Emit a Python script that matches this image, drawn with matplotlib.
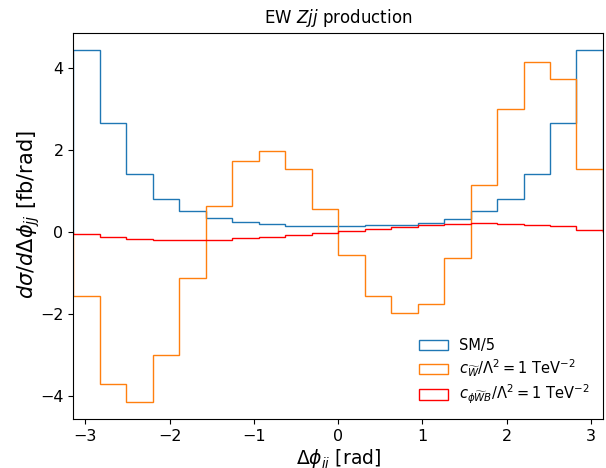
import numpy as np
import matplotlib
matplotlib.use("Agg")
import matplotlib.pyplot as plt

# 20 bins in delta phi_jj over [-pi, pi]
edges = np.linspace(-np.pi, np.pi, 21)
centres = 0.5 * (edges[:-1] + edges[1:])

# SM / 5
sm = [4.42, 2.65, 1.41, 0.815, 0.52, 0.34, 0.24, 0.19, 0.15, 0.135,
      0.15, 0.16, 0.175, 0.22, 0.32, 0.52, 0.815, 1.41, 2.65, 4.42]
# c_Wtilde / Lambda^2 = 1 TeV^-2
cwt = [-1.55, -3.70, -4.13, -2.99, -1.13, 0.63, 1.73, 1.98, 1.54, 0.55,
       -0.55, -1.55, -1.98, -1.75, -0.64, 1.14, 3.00, 4.13, 3.73, 1.54]
# c_phiWtildeB / Lambda^2 = 1 TeV^-2
cpwb = [-0.045, -0.125, -0.165, -0.20, -0.205, -0.19, -0.15, -0.11, -0.07, -0.03,
        0.03, 0.08, 0.12, 0.17, 0.20, 0.215, 0.20, 0.17, 0.135, 0.055]

plt.rcParams['font.size'] = 12

fig = plt.figure(figsize=(6.06, 4.68), dpi=100)
ax = fig.add_axes([0.121, 0.104, 0.874, 0.826])

ax.hist(centres, bins=edges, weights=sm, histtype='step', color='#1f77b4', label='SM/5')
ax.hist(centres, bins=edges, weights=cwt, histtype='step', color='#ff7f0e',
        label=r'$c_{\widetilde{W}}/\Lambda^2 = 1$ TeV$^{-2}$')
ax.hist(centres, bins=edges, weights=cpwb, histtype='step', color='red',
        label=r'$c_{\phi\widetilde{W}B}/\Lambda^2 = 1$ TeV$^{-2}$')

ax.set_xlim(-np.pi, np.pi)
ax.tick_params(labelsize=11.5)
ax.set_title(r'EW $Zjj$ production', fontsize=12, pad=7)
ax.set_xlabel(r'$\Delta\phi_{jj}$ [rad]', fontsize=13.5)
ax.xaxis.set_label_coords(0.5, -0.074)
ax.set_ylabel(r'$d\sigma/d\Delta\phi_{jj}$ [fb/rad]', fontsize=15)
ax.yaxis.set_label_coords(-0.06, 0.53)
ax.legend(loc='lower right', frameon=False, fontsize=10.5, labelspacing=0.3)

fig.savefig('out.png', dpi=100)
